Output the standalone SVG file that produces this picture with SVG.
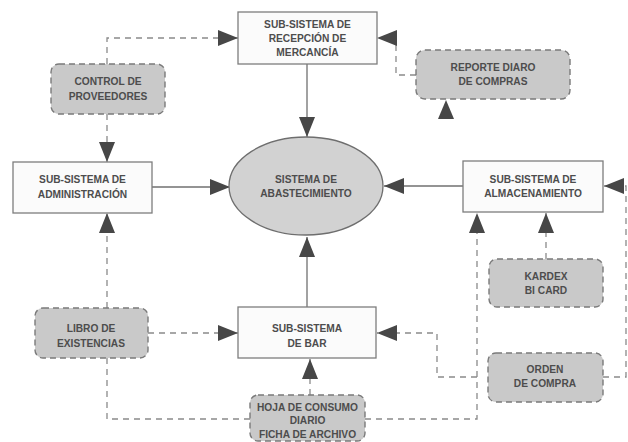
<svg xmlns="http://www.w3.org/2000/svg" width="628" height="442" viewBox="0 0 628 442">
<style>
.box{fill:#fbfbfb;stroke:#7d7d7d;stroke-width:1.3}
.doc{fill:#c9c9c9;stroke:#7a7a7a;stroke-width:1.4;stroke-dasharray:6 4}
.ell{fill:#d2d2d2;stroke:#6e6e6e;stroke-width:1.3}
.t{font-family:"Liberation Sans",Arial,sans-serif;font-weight:bold;font-size:10.2px;fill:#4d4d4d;text-anchor:middle}
.solid{fill:none;stroke:#707070;stroke-width:1.3}
.dash{fill:none;stroke:#8a8a8a;stroke-width:1.3;stroke-dasharray:6 5}
.head{fill:#474747}
</style>
<defs>
<marker id="arr" viewBox="0 0 20 16" markerWidth="20" markerHeight="16" refX="20" refY="8" orient="auto" markerUnits="userSpaceOnUse">
<path class="head" d="M0,0 L20,8 L0,16 Z"/>
</marker>
</defs>
<g id="connectors">
<path class="solid" d="M307,64 V137" marker-end="url(#arr)"/>
<path class="solid" d="M152,187 H230" marker-end="url(#arr)"/>
<path class="solid" d="M463,186 H384" marker-end="url(#arr)"/>
<path class="solid" d="M307,307 V237" marker-end="url(#arr)"/>
<path class="dash" d="M107,64 V38 H238" marker-end="url(#arr)"/>
<path class="dash" d="M107,114 V162" marker-end="url(#arr)"/>
<path class="dash" d="M416,75 H396 V38 H377" marker-end="url(#arr)"/>
<polygon class="head" points="446,100 454,119 438,119"/>
<path class="dash" d="M603,377 H626 V186 H604" marker-end="url(#arr)"/>
<path class="dash" d="M546,259 V213" marker-end="url(#arr)"/>
<path class="dash" d="M365,419 H477 V213" marker-end="url(#arr)"/>
<path class="dash" d="M477,377 H437 V333 H377" marker-end="url(#arr)"/>
<path class="dash" d="M310,395 V359" marker-end="url(#arr)"/>
<path class="dash" d="M148,333 H238" marker-end="url(#arr)"/>
<path class="dash" d="M107,308 V213" marker-end="url(#arr)"/>
<path class="dash" d="M250,419 H107 V358"/>
</g>
<g id="recepcion">
<rect class="box" x="238" y="12" width="139" height="52"/>
<text class="t" x="307.5" y="28">SUB-SISTEMA DE</text>
<text class="t" x="307.5" y="42">RECEPCIÓN DE</text>
<text class="t" x="307.5" y="56">MERCANCÍA</text>
</g>
<g id="control">
<rect class="doc" x="51" y="64" width="114" height="50" rx="8"/>
<text class="t" x="108" y="85">CONTROL DE</text>
<text class="t" x="108" y="100">PROVEEDORES</text>
</g>
<g id="reporte">
<rect class="doc" x="416" y="50" width="154" height="49" rx="9"/>
<text class="t" x="493" y="71">REPORTE DIARO</text>
<text class="t" x="493" y="85">DE COMPRAS</text>
</g>
<g id="administracion">
<rect class="box" x="13" y="162" width="139" height="51"/>
<text class="t" x="82.5" y="183">SUB-SISTEMA DE</text>
<text class="t" x="82.5" y="198">ADMINISTRACIÓN</text>
</g>
<g id="abastecimiento">
<ellipse class="ell" cx="306" cy="186" rx="77" ry="49"/>
<text class="t" x="306" y="183">SISTEMA DE</text>
<text class="t" x="306" y="197">ABASTECIMIENTO</text>
</g>
<g id="almacenamiento">
<rect class="box" x="463" y="161" width="140" height="51"/>
<text class="t" x="533" y="183">SUB-SISTEMA DE</text>
<text class="t" x="533" y="197">ALMACENAMIENTO</text>
</g>
<g id="kardex">
<rect class="doc" x="489" y="259" width="114" height="48" rx="8"/>
<text class="t" x="546" y="280">KARDEX</text>
<text class="t" x="546" y="294">BI CARD</text>
</g>
<g id="orden">
<rect class="doc" x="488" y="353" width="115" height="49" rx="8"/>
<text class="t" x="545" y="373">ORDEN</text>
<text class="t" x="545" y="387">DE COMPRA</text>
</g>
<g id="bar">
<rect class="box" x="238" y="307" width="138" height="51"/>
<text class="t" x="307" y="332">SUB-SISTEMA</text>
<text class="t" x="307" y="347">DE BAR</text>
</g>
<g id="libro">
<rect class="doc" x="35" y="308" width="113" height="50" rx="8"/>
<text class="t" x="91" y="332">LIBRO DE</text>
<text class="t" x="91" y="347">EXISTENCIAS</text>
</g>
<g id="hoja">
<rect class="doc" x="250" y="395" width="115" height="46" rx="8"/>
<text class="t" x="307.5" y="411">HOJA DE CONSUMO</text>
<text class="t" x="307.5" y="424">DIARIO</text>
<text class="t" x="307.5" y="438">FICHA DE ARCHIVO</text>
</g>
</svg>
